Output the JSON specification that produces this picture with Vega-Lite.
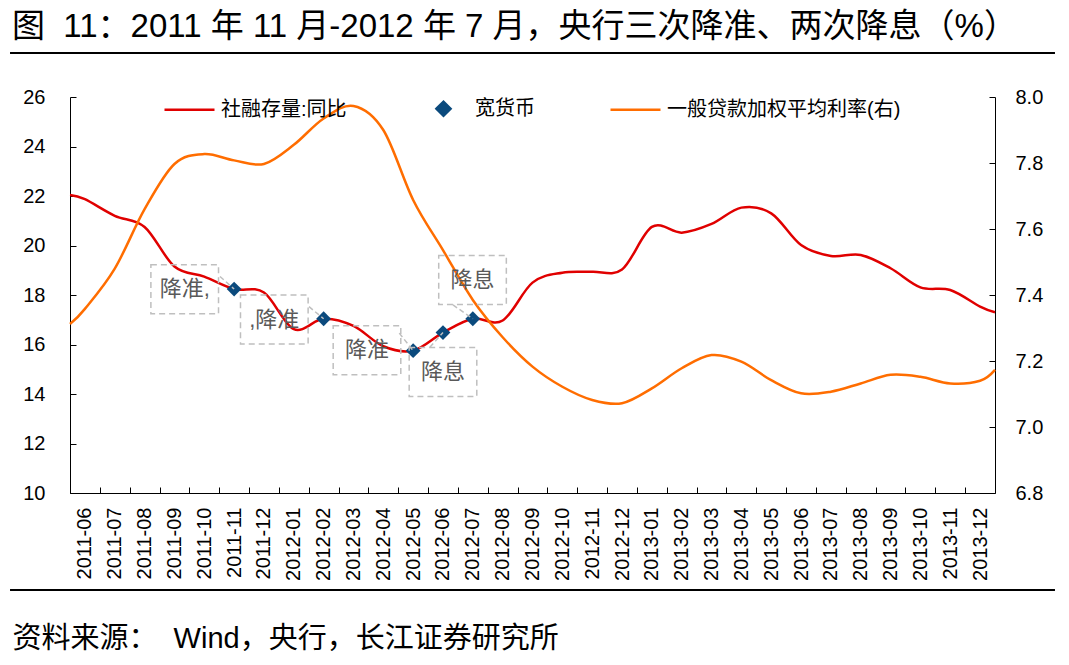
{
  "$schema": "https://vega.github.io/schema/vega-lite/v6.json",
  "width": 925,
  "height": 396,
  "autosize": {"type": "none"},
  "padding": {"left": 70, "top": 97, "right": 74, "bottom": 172},
  "background": "white",
  "title": {
    "text": "图\u00a0\u00a011：2011 年 11 月-2012 年 7 月，央行三次降准、两次降息（%）",
    "anchor": "start",
    "frame": "group",
    "baseline": "alphabetic",
    "offset": -18,
    "dx": -58,
    "fontSize": 33,
    "fontWeight": "normal",
    "color": "#000000"
  },
  "datasets": {
    "social": [
      {"i": -0.5, "v": 22.04, "series": "社融存量:同比"},
      {"i": 0, "v": 21.87, "series": "社融存量:同比"},
      {"i": 1, "v": 21.2, "series": "社融存量:同比"},
      {"i": 2, "v": 20.75, "series": "社融存量:同比"},
      {"i": 3, "v": 19.15, "series": "社融存量:同比"},
      {"i": 4, "v": 18.74, "series": "社融存量:同比"},
      {"i": 5, "v": 18.24, "series": "社融存量:同比"},
      {"i": 6, "v": 18.1, "series": "社融存量:同比"},
      {"i": 7, "v": 16.62, "series": "社融存量:同比"},
      {"i": 8, "v": 17.04, "series": "社融存量:同比"},
      {"i": 9, "v": 16.75, "series": "社融存量:同比"},
      {"i": 10, "v": 15.93, "series": "社融存量:同比"},
      {"i": 11, "v": 15.75, "series": "社融存量:同比"},
      {"i": 12, "v": 16.48, "series": "社融存量:同比"},
      {"i": 13, "v": 17.04, "series": "社融存量:同比"},
      {"i": 14, "v": 16.97, "series": "社融存量:同比"},
      {"i": 15, "v": 18.5, "series": "社融存量:同比"},
      {"i": 16, "v": 18.9, "series": "社融存量:同比"},
      {"i": 17, "v": 18.94, "series": "社融存量:同比"},
      {"i": 18, "v": 19.03, "series": "社融存量:同比"},
      {"i": 19, "v": 20.75, "series": "社融存量:同比"},
      {"i": 20, "v": 20.52, "series": "社融存量:同比"},
      {"i": 21, "v": 20.87, "series": "社融存量:同比"},
      {"i": 22, "v": 21.53, "series": "社融存量:同比"},
      {"i": 23, "v": 21.3, "series": "社融存量:同比"},
      {"i": 24, "v": 20.02, "series": "社融存量:同比"},
      {"i": 25, "v": 19.58, "series": "社融存量:同比"},
      {"i": 26, "v": 19.62, "series": "社融存量:同比"},
      {"i": 27, "v": 19.08, "series": "社融存量:同比"},
      {"i": 28, "v": 18.31, "series": "社融存量:同比"},
      {"i": 29, "v": 18.2, "series": "社融存量:同比"},
      {"i": 30, "v": 17.53, "series": "社融存量:同比"},
      {"i": 30.5, "v": 17.3, "series": "社融存量:同比"}
    ],
    "ease": [
      {"i": 5, "v": 18.24, "series": "宽货币"},
      {"i": 8, "v": 17.04, "series": "宽货币"},
      {"i": 11, "v": 15.75, "series": "宽货币"},
      {"i": 12, "v": 16.48, "series": "宽货币"},
      {"i": 13, "v": 17.04, "series": "宽货币"}
    ],
    "rate": [
      {"i": -0.5, "v": 7.312, "series": "一般贷款加权平均利率(右)"},
      {"i": 0, "v": 7.358, "series": "一般贷款加权平均利率(右)"},
      {"i": 1, "v": 7.48, "series": "一般贷款加权平均利率(右)"},
      {"i": 2, "v": 7.66, "series": "一般贷款加权平均利率(右)"},
      {"i": 3, "v": 7.797, "series": "一般贷款加权平均利率(右)"},
      {"i": 4, "v": 7.827, "series": "一般贷款加权平均利率(右)"},
      {"i": 5, "v": 7.808, "series": "一般贷款加权平均利率(右)"},
      {"i": 6, "v": 7.797, "series": "一般贷款加权平均利率(右)"},
      {"i": 7, "v": 7.855, "series": "一般贷款加权平均利率(右)"},
      {"i": 8, "v": 7.935, "series": "一般贷款加权平均利率(右)"},
      {"i": 9, "v": 7.973, "series": "一般贷款加权平均利率(右)"},
      {"i": 10, "v": 7.9, "series": "一般贷款加权平均利率(右)"},
      {"i": 11, "v": 7.688, "series": "一般贷款加权平均利率(右)"},
      {"i": 12, "v": 7.536, "series": "一般贷款加权平均利率(右)"},
      {"i": 13, "v": 7.385, "series": "一般贷款加权平均利率(右)"},
      {"i": 14, "v": 7.272, "series": "一般贷款加权平均利率(右)"},
      {"i": 15, "v": 7.183, "series": "一般贷款加权平均利率(右)"},
      {"i": 16, "v": 7.122, "series": "一般贷款加权平均利率(右)"},
      {"i": 17, "v": 7.082, "series": "一般贷款加权平均利率(右)"},
      {"i": 18, "v": 7.072, "series": "一般贷款加权平均利率(右)"},
      {"i": 19, "v": 7.117, "series": "一般贷款加权平均利率(右)"},
      {"i": 20, "v": 7.178, "series": "一般贷款加权平均利率(右)"},
      {"i": 21, "v": 7.218, "series": "一般贷款加权平均利率(右)"},
      {"i": 22, "v": 7.198, "series": "一般贷款加权平均利率(右)"},
      {"i": 23, "v": 7.142, "series": "一般贷款加权平均利率(右)"},
      {"i": 24, "v": 7.102, "series": "一般贷款加权平均利率(右)"},
      {"i": 25, "v": 7.107, "series": "一般贷款加权平均利率(右)"},
      {"i": 26, "v": 7.132, "series": "一般贷款加权平均利率(右)"},
      {"i": 27, "v": 7.158, "series": "一般贷款加权平均利率(右)"},
      {"i": 28, "v": 7.152, "series": "一般贷款加权平均利率(右)"},
      {"i": 29, "v": 7.132, "series": "一般贷款加权平均利率(右)"},
      {"i": 30, "v": 7.14, "series": "一般贷款加权平均利率(右)"},
      {"i": 30.5, "v": 7.173, "series": "一般贷款加权平均利率(右)"}
    ],
    "notes": [
      {"label": "降准,", "tx": 3.344, "ty": 18.23, "lx": 4.527, "ly": 18.75, "px": 5, "py": 18.24},
      {"label": ",降准", "tx": 6.347, "ty": 17.01, "lx": 7.51, "ly": 17.53, "px": 8, "py": 17.04},
      {"label": "降准", "tx": 9.453, "ty": 15.77, "lx": 10.535, "ly": 16.46, "px": 11, "py": 15.75},
      {"label": "降息", "tx": 12.0, "ty": 14.89, "lx": 11.56, "ly": 15.89, "px": 12, "py": 16.48},
      {"label": "降息", "tx": 12.99, "ty": 18.61, "lx": 12.335, "ly": 17.6, "px": 13, "py": 17.04}
    ],
    "frame": [
      {"x0": -2.51, "x1": 32.51, "y": 27.78},
      {"x0": -2.51, "x1": 32.51, "y": 6.08}
    ]
  },
  "layer": [
    {
      "layer": [
        {
          "data": {"name": "social"},
          "mark": {"type": "line", "interpolate": "cardinal", "strokeWidth": 2.5},
          "encoding": {
            "x": {
              "field": "i",
              "type": "quantitative",
              "scale": {"domain": [-0.5, 30.5], "nice": false, "zero": false},
              "axis": {
                "values": [0, 1, 2, 3, 4, 5, 6, 7, 8, 9, 10, 11, 12, 13, 14, 15, 16, 17, 18, 19, 20, 21, 22, 23, 24, 25, 26, 27, 28, 29, 30],
                "tickCount": 31,
                "labelExpr": "timeFormat(datetime(2011, 5 + datum.value, 1), '%Y-%m')",
                "labelAngle": -90,
                "labelFontSize": 20,
                "labelPadding": 20,
                "labelFlush": false,
                "labelOverlap": false,
                "labelSeparation": 0,
                "tickOffset": -14.92,
                "labelOffset": 14.92,
                "title": "资料来源：\u00a0\u00a0Wind，央行，长江证券研究所",
                "titleX": -58,
                "titleY": 154,
                "titleAlign": "left",
                "titleAnchor": "start",
                "titleBaseline": "alphabetic",
                "titleFontSize": 29,
                "titleFontWeight": "normal",
                "titleColor": "#000000"
              }
            },
            "y": {
              "field": "v",
              "type": "quantitative",
              "scale": {"domain": [10, 26], "nice": false, "zero": false},
              "axis": {
                "values": [10, 12, 14, 16, 18, 20, 22, 24, 26],
                "labelFontSize": 20,
                "labelPadding": 31,
                "title": null
              }
            },
            "color": {
              "field": "series",
              "type": "nominal",
              "scale": {
                "domain": ["社融存量:同比", "宽货币", "一般贷款加权平均利率(右)"],
                "range": ["#e00000", "#0b4a7d", "#ff6d00"]
              },
              "legend": {
                "orient": "none",
                "legendX": 93,
                "legendY": -15,
                "direction": "horizontal",
                "title": null,
                "padding": 0,
                "labelFontSize": 20,
                "labelColor": "#000000",
                "labelLimit": 400,
                "labelOffset": 5,
                "columnPadding": 70,
                "symbolType": "stroke",
                "symbolSize": 2500,
                "symbolStrokeWidth": 2.5,
                "encode": {
                  "symbols": {
                    "update": {
                      "shape": {"signal": "datum.value === '宽货币' ? 'diamond' : 'stroke'"},
                      "size": {"signal": "datum.value === '宽货币' ? 200 : 2500"},
                      "fill": {"signal": "datum.value === '宽货币' ? '#0b4a7d' : 'transparent'"},
                      "stroke": {"signal": "datum.value === '宽货币' ? 'transparent' : (datum.value === '社融存量:同比' ? '#e00000' : '#ff6d00')"},
                      "strokeWidth": {"value": 2.5},
                      "opacity": {"value": 1}
                    }
                  }
                }
              }
            }
          }
        },
        {
          "data": {"name": "ease"},
          "mark": {"type": "point", "shape": "diamond", "filled": true, "size": 220, "opacity": 1},
          "encoding": {
            "x": {"field": "i", "type": "quantitative", "scale": {"domain": [-0.5, 30.5], "nice": false, "zero": false}},
            "y": {"field": "v", "type": "quantitative", "scale": {"domain": [10, 26], "nice": false, "zero": false}},
            "color": {"field": "series", "type": "nominal"}
          }
        }
      ]
    },
    {
      "data": {"name": "rate"},
      "mark": {"type": "line", "interpolate": "cardinal", "strokeWidth": 2.5},
      "encoding": {
        "x": {"field": "i", "type": "quantitative", "scale": {"domain": [-0.5, 30.5], "nice": false, "zero": false}},
        "y": {
          "field": "v",
          "type": "quantitative",
          "scale": {"domain": [6.8, 8.0], "nice": false, "zero": false},
          "axis": {
            "orient": "right",
            "values": [6.8, 7.0, 7.2, 7.4, 7.6, 7.8, 8.0],
            "format": ".1f",
            "labelFontSize": 20,
            "labelPadding": 26,
            "title": null
          }
        },
        "color": {"field": "series", "type": "nominal"}
      }
    },
    {
      "layer": [
        {
          "data": {"name": "notes"},
          "mark": {"type": "rule", "stroke": "#bfbfbf", "strokeWidth": 1.5, "strokeDash": [5, 3]},
          "encoding": {
            "x": {"field": "lx", "type": "quantitative", "scale": {"domain": [-0.5, 30.5], "nice": false, "zero": false}},
            "y": {"field": "ly", "type": "quantitative", "scale": {"domain": [10, 26], "nice": false, "zero": false}, "axis": null},
            "x2": {"field": "px"},
            "y2": {"field": "py"}
          }
        },
        {
          "data": {"name": "notes"},
          "mark": {"type": "point", "shape": "M-1.38,-1H1.38V1H-1.38Z", "size": 2401, "filled": false, "stroke": "#bfbfbf", "strokeWidth": 1.5, "strokeDash": [6, 4], "opacity": 1},
          "encoding": {
            "x": {"field": "tx", "type": "quantitative", "scale": {"domain": [-0.5, 30.5], "nice": false, "zero": false}},
            "y": {"field": "ty", "type": "quantitative", "scale": {"domain": [10, 26], "nice": false, "zero": false}, "axis": null}
          }
        },
        {
          "data": {"name": "notes"},
          "mark": {"type": "text", "fontSize": 22, "color": "#595959", "baseline": "middle", "align": "center"},
          "encoding": {
            "x": {"field": "tx", "type": "quantitative", "scale": {"domain": [-0.5, 30.5], "nice": false, "zero": false}},
            "y": {"field": "ty", "type": "quantitative", "scale": {"domain": [10, 26], "nice": false, "zero": false}, "axis": null},
            "text": {"field": "label", "type": "nominal"}
          }
        },
        {
          "data": {"name": "frame"},
          "mark": {"type": "rule", "stroke": "#000000", "strokeWidth": 2},
          "encoding": {
            "x": {"field": "x0", "type": "quantitative", "scale": {"domain": [-0.5, 30.5], "nice": false, "zero": false}},
            "x2": {"field": "x1"},
            "y": {"field": "y", "type": "quantitative", "scale": {"domain": [10, 26], "nice": false, "zero": false}, "axis": null}
          }
        }
      ]
    }
  ],
  "resolve": {"scale": {"y": "independent"}},
  "config": {
    "font": "Liberation Sans, Noto Sans CJK SC",
    "view": {"stroke": null},
    "axis": {
      "grid": false,
      "domainColor": "#000000",
      "domainWidth": 1,
      "tickColor": "#000000",
      "tickWidth": 1,
      "tickSize": -6,
      "labelColor": "#000000",
      "labelFont": "Liberation Sans, Noto Sans CJK SC"
    },
    "axisX": {"labelOverlap": false},
    "legend": {"labelFont": "Liberation Sans, Noto Sans CJK SC"},
    "text": {"font": "Liberation Sans, Noto Sans CJK SC"}
  }
}
